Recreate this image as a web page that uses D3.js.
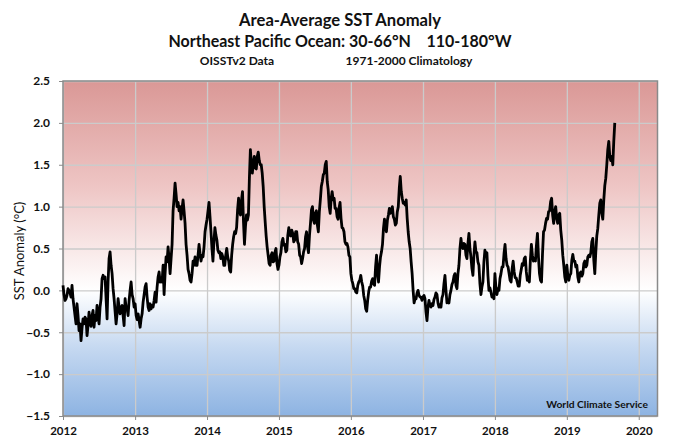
<!DOCTYPE html>
<html><head><meta charset="utf-8">
<script src="https://cdn.jsdelivr.net/npm/d3@7"></script>
<style>html,body{margin:0;padding:0;background:#fff}svg{display:block}text{font-family:Lato,"Open Sans",sans-serif}</style>
</head><body><svg id="c" width="680" height="446"></svg>
<script>
const titleLines=["Area-Average SST Anomaly","Northeast Pacific Ocean: 30-66°N    110-180°W"];
const subLeft="OISSTv2 Data", subRight="1971-2000 Climatology", credit="World Climate Service", yLabel="SST Anomaly (°C)";
const yTicks=[-1.5,-1,-0.5,0,0.5,1,1.5,2,2.5];
const xYears=[2012,2013,2014,2015,2016,2017,2018,2019,2020];
const pointsPerYear=72;
const sst2012=[.06,-.05,-.12,-.1,-.06,.02,0,-.03,-.08,.06,-.1,-.2,-.3,-.4,-.16,-.3,-.48,-.4,-.6,-.45,-.34,-.4,-.32,-.34,-.54,-.42,-.26,-.38,-.43,-.3,-.24,-.44,-.3,-.36,-.18,-.3,-.4,-.2,-.1,.14,.18,.14,.16,-.1,-.34,.1,.38,.46,.3,.2,.02,-.1,-.25,-.4,-.28,-.1,-.2,-.28,-.2,-.18,-.3,-.42,-.1,-.2,-.22,-.3,-.12,0,.1,-.05,-.1,-.2];
const sst2013=[-.16,-.3,-.35,-.28,-.36,-.44,-.34,-.28,-.14,-.05,.04,.08,-.08,-.2,-.24,-.16,-.22,-.18,-.2,-.12,-.02,-.14,.04,.16,.22,.1,.14,.1,.3,-.05,.2,.4,.34,.52,.38,.2,.38,.55,.95,1.1,1.28,1.15,1.0,1.05,.95,1.0,.85,.98,1.08,.95,.8,.55,.42,.25,.2,.12,.1,.2,.35,.3,.4,.3,.3,.42,.55,.44,.35,.42,.4,.52,.7,.78];
const sst2014=[.85,.95,1.05,.88,.7,.5,.35,.58,.75,.66,.6,.48,.45,.46,.38,.44,.4,.3,.3,.42,.5,.4,.35,.24,.22,.42,.55,.64,.7,.68,.75,.96,1.1,.94,.9,1.08,1.18,.82,.55,.76,.9,.84,.9,1.34,1.68,1.5,1.4,1.54,1.6,1.46,1.45,1.6,1.65,1.55,1.5,1.5,1.4,1.24,1.0,.82,.65,.52,.42,.32,.3,.42,.45,.34,.35,.46,.5,.32,.25];
const sst2015=[.3,.4,.45,.58,.62,.54,.55,.46,.48,.66,.75,.66,.65,.72,.68,.58,.6,.7,.7,.58,.55,.42,.4,.32,.38,.46,.5,.64,.7,.52,.45,.66,.8,.96,1.0,.84,.8,.92,.95,.78,.7,.94,1.08,1.24,1.3,1.38,1.4,1.5,1.54,1.3,1.2,1.0,.92,1.1,1.18,1.08,1.1,.98,.98,.88,.85,.98,1.05,.86,.75,.74,.7,.58,.55,.56,.52,.42,.4];
const sst2016=[.2,.12,.08,.02,.02,-.02,-.03,.06,.1,.12,.18,.1,.05,-.06,-.12,-.22,-.25,-.12,-.02,.04,.04,.11,.14,.08,.06,.28,.42,.2,.1,.28,.4,.46,.55,.74,.85,.74,.7,.84,.9,.98,.92,.94,1.0,.88,.85,.78,.8,.94,1.0,1.22,1.36,1.18,1.1,1.04,1.05,1.02,1.08,.86,.7,.58,.5,.34,.2,0,-.15,-.1,-.1,-.03,0,-.06,-.08,-.08,-.12];
const sst2017=[-.08,-.06,-.1,-.26,-.36,-.2,-.12,-.18,-.2,-.16,-.18,-.11,-.08,-.03,-.05,-.15,-.2,-.17,-.2,-.09,-.05,.08,.18,0,-.15,-.12,-.15,-.05,0,.07,.1,.17,.2,.06,.02,.2,.3,.5,.62,.52,.5,.56,.55,.42,.38,.56,.68,.5,.4,.26,.18,.42,.58,.46,.45,.34,.3,.08,-.05,.04,.1,.34,.48,.42,.45,.18,0,.03,-.02,-.08,-.07,-.1];
const sst2018=[.2,.04,-.05,.02,0,.14,.2,.28,.28,.44,.55,.38,.3,.28,.2,.12,.1,.26,.35,.22,.15,.15,.1,.05,.05,.18,.25,.32,.3,.38,.4,.22,.12,.14,.1,.36,.55,.42,.35,.38,.35,.54,.68,.4,.2,.12,.1,.44,.7,.72,.8,.86,.85,.94,.95,1.06,1.1,.9,.8,.94,1.0,.86,.8,.9,.92,.72,.6,.42,.3,.16,.1];
const sst2019=[.3,.18,.12,.18,.2,.36,.43,.35,.35,.28,.3,.16,.1,.2,.22,.17,.2,.32,.35,.28,.3,.4,.42,.4,.45,.58,.62,.36,.2,.46,.65,.74,.9,1.04,1.08,.92,.85,1.08,1.25,1.34,1.5,1.68,1.78,1.6,1.55,1.6,1.5,1.78,2.0];
const yearSeries=[sst2012,sst2013,sst2014,sst2015,sst2016,sst2017,sst2018,sst2019];

const svg=d3.select("#c");
const L=63,R=657.5,T=81,B=416;
const dateOf=y=>new Date(Date.UTC(y,0,1));
const fracDate=f=>{const y=Math.floor(f);const a=+dateOf(y),b=+dateOf(y+1);return new Date(a+(f-y)*(b-a));};
const x=d3.scaleUtc().domain([dateOf(2012),fracDate(2020.26)]).range([L,R]);
const y=d3.scaleLinear().domain([-1.5,2.5]).range([B,T]);
const points=yearSeries.flatMap((vals,k)=>{
  const yr=2012+k, n=k===yearSeries.length-1?pointsPerYear:vals.length;
  return vals.map((v,i)=>({date:fracDate(yr+i/n),v}));
});

const g=svg.append("defs").append("linearGradient").attr("id","bg").attr("x1",0).attr("x2",0).attr("y1",0).attr("y2",1);
const zeroOff=(y(0)-T)/(B-T);
[[0,"#da9896"],[zeroOff*0.5,"#eec5c4"],[zeroOff,"#ffffff"],[zeroOff+(1-zeroOff)*0.45,"#c6d9f1"],[1,"#8db3e2"]].forEach(s=>g.append("stop").attr("offset",s[0]).attr("stop-color",s[1]));
svg.append("rect").attr("x",L).attr("y",T).attr("width",R-L).attr("height",B-T).attr("fill","url(#bg)");

const gx=svg.append("g").attr("transform",`translate(0,${B})`).call(d3.axisBottom(x).tickValues(xYears.map(dateOf)).tickSize(-(B-T)).tickFormat(""));
gx.select(".domain").remove();gx.selectAll("line").attr("stroke","#cbcbcb").attr("stroke-width",1.3);
const gy=svg.append("g").attr("transform",`translate(${L},0)`).call(d3.axisLeft(y).tickValues(yTicks).tickSize(-(R-L)).tickFormat(""));
gy.select(".domain").remove();gy.selectAll("line").attr("stroke","#cbcbcb").attr("stroke-width",1.3);

svg.append("path").attr("d",`M${L},${T}H${R}V${B}H${L}Z`).attr("fill","none").attr("stroke","#8a8a8a").attr("stroke-width",1.5);

const ax=svg.append("g").attr("transform",`translate(0,${B})`).call(d3.axisBottom(x).tickValues(xYears.map(dateOf)).tickSize(4).tickPadding(7).tickFormat(d=>d.getUTCFullYear()));
ax.select(".domain").remove();ax.selectAll("line").attr("stroke","#8a8a8a");
ax.selectAll("text").attr("font-size",11.5).attr("font-weight",700).attr("fill","#111");
const ay=svg.append("g").attr("transform",`translate(${L},0)`).call(d3.axisLeft(y).tickValues(yTicks).tickSize(4).tickPadding(9).tickFormat(d3.format(".1f")));
ay.select(".domain").remove();ay.selectAll("line").attr("stroke","#8a8a8a");
ay.selectAll("text").attr("font-size",12).attr("font-weight",700).attr("fill","#111");

const line=d3.line().x(d=>x(d.date)).y(d=>y(d.v));
svg.append("path").datum(points).attr("d",line).attr("fill","none").attr("stroke","#000").attr("stroke-width",2.8).attr("stroke-linejoin","round");

const txt=(s,px,py,size,anchor="middle",w=700)=>svg.append("text").attr("x",px).attr("y",py).attr("text-anchor",anchor).attr("font-size",size).attr("font-weight",w).attr("fill","#111").attr("xml:space","preserve").text(s);
txt(titleLines[0],340,26,16.6);
txt(titleLines[1],340,47,17).attr("textLength",343).attr("lengthAdjust","spacingAndGlyphs");
txt(subLeft,237,65,12);
txt(subRight,409,65,12);
txt(credit,648,408,10.3,"end");
svg.append("text").attr("transform","translate(24,251) rotate(-90)").attr("text-anchor","middle").attr("font-size",13).attr("fill","#111").text(yLabel);
</script></body></html>
